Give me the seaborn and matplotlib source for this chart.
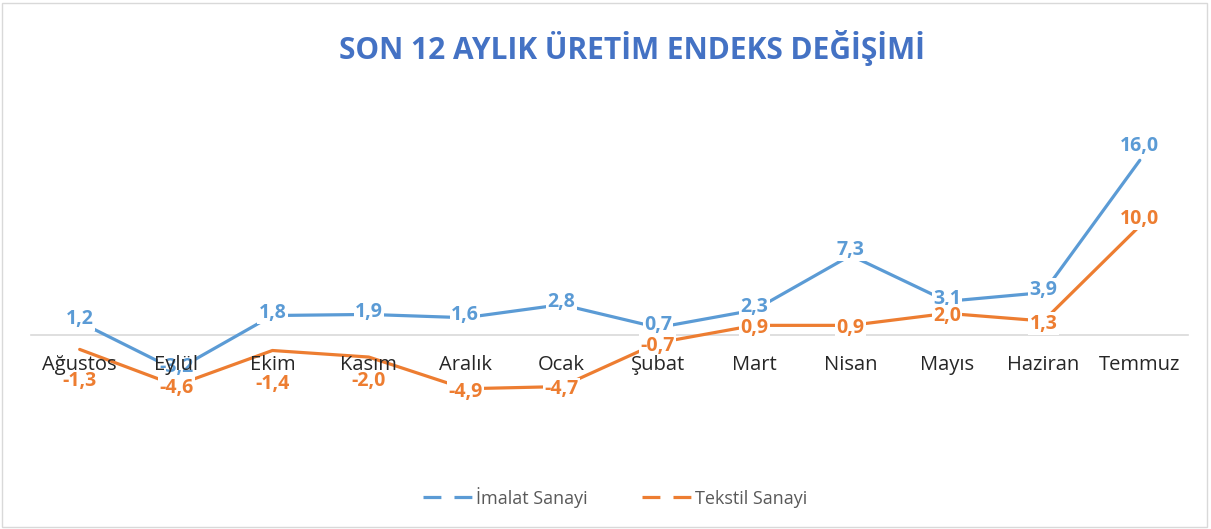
import pandas as pd
import matplotlib.pyplot as plt
import seaborn as sns
from matplotlib.lines import Line2D
from matplotlib.patches import Rectangle

# === Data ===
months = ["Ağustos", "Eylül", "Ekim", "Kasım", "Aralık", "Ocak",
          "Şubat", "Mart", "Nisan", "Mayıs", "Haziran", "Temmuz"]
imalat = [1.2, -3.2, 1.8, 1.9, 1.6, 2.8, 0.7, 2.3, 7.3, 3.1, 3.9, 16.0]
tekstil = [-1.3, -4.6, -1.4, -2.0, -4.9, -4.7, -0.7, 0.9, 0.9, 2.0, 1.3, 10.0]
series_names = ["İmalat Sanayi", "Tekstil Sanayi"]

BLUE = "#5B9BD5"
ORANGE = "#ED7D31"

df = pd.DataFrame({
    "x": list(range(len(months))) * 2,
    "value": imalat + tekstil,
    "series": [series_names[0]] * len(months) + [series_names[1]] * len(months),
})

sns.set_style("white")
plt.rcParams["font.family"] = ["Open Sans", "DejaVu Sans"]

fig = plt.figure(figsize=(12.11, 5.29), dpi=100)
ax = fig.add_axes([0.026, 0.168, 0.955, 0.624])

sns.lineplot(data=df, x="x", y="value", hue="series",
             palette={series_names[0]: BLUE, series_names[1]: ORANGE},
             linewidth=2.3, legend=False, ax=ax, zorder=2)

ax.set_xlim(-0.5, 11.5)
ax.set_ylim(-9.6, 20.6)

# axis line at zero, month labels below it (drawn on top of data labels)
for s in ["top", "right", "left"]:
    ax.spines[s].set_visible(False)
ax.spines["bottom"].set_position(("data", 0))
ax.spines["bottom"].set_color("#D9D9D9")
ax.spines["bottom"].set_linewidth(1.2)
ax.spines["bottom"].set_zorder(1)
ax.set_yticks([])
ax.set_xticks(range(len(months)))
ax.set_xticklabels(months, fontsize=14.5, color="#262626")
ax.tick_params(axis="x", length=0, pad=14)
ax.xaxis.set_zorder(5)
ax.set_xlabel("")
ax.set_ylabel("")

# data labels (label offsets in points)
blue_dy = {11: 10, 8: 4}
orange_dy = {0: -23, 2: -24, 3: -17, 11: 5}


def fmt(v):
    return f"{v:.1f}".replace(".", ",")


for i, v in enumerate(imalat):
    ax.annotate(fmt(v), (i, v), xytext=(0, blue_dy.get(i, 2)), textcoords="offset points",
                ha="center", va="center", color=BLUE, fontsize=14, fontweight="bold",
                bbox=dict(facecolor="white", edgecolor="none", pad=1.0), zorder=3)
for i, v in enumerate(tekstil):
    ax.annotate(fmt(v), (i, v), xytext=(0, orange_dy.get(i, -2)), textcoords="offset points",
                ha="center", va="center", color=ORANGE, fontsize=14, fontweight="bold",
                bbox=dict(facecolor="white", edgecolor="none", pad=1.0), zorder=3)

fig.text(0.522, 0.91, "SON 12 AYLIK ÜRETİM ENDEKS DEĞİŞİMİ", ha="center", va="center",
         fontsize=21.5, fontweight="bold", color="#4472C4")

handles = [Line2D([], [], color=BLUE, linewidth=2.3, linestyle=(0, (5.6, 4.1))),
           Line2D([], [], color=ORANGE, linewidth=2.3, linestyle=(0, (5.6, 4.1)))]
fig.legend(handles, series_names, loc="center", bbox_to_anchor=(0.508, 0.06), ncol=2,
           frameon=False, fontsize=13, labelcolor="#595959", handlelength=2.75,
           columnspacing=3.0, handletextpad=0.2)

fig.patches.append(Rectangle((0.002, 0.004), 0.995, 0.99, transform=fig.transFigure,
                             fill=False, edgecolor="#D9D9D9", linewidth=1))

fig.savefig("out.png", dpi=100)
